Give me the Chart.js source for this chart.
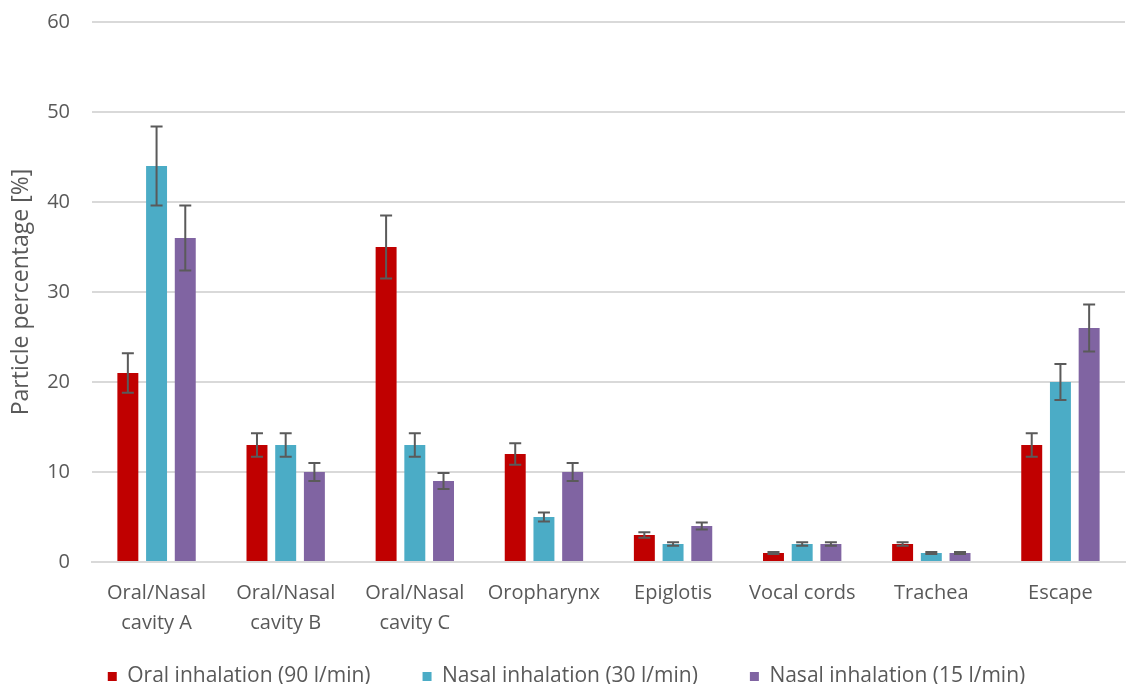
<!DOCTYPE html>
<html lang="en">
<head>
    <meta charset="UTF-8">
    <title>Particle deposition</title>
    <script src="https://cdn.jsdelivr.net/npm/chart.js"></script>
    <style>
        body { margin: 0; background: #fff; }
        .wrap { width: 1128px; height: 684px; }
    </style>
</head>
<body>
    <div class="wrap"><canvas id="chart"></canvas></div>
    <script>
        const categories = [
            ['Oral/Nasal', 'cavity A'], ['Oral/Nasal', 'cavity B'], ['Oral/Nasal', 'cavity C'],
            'Oropharynx', 'Epiglotis', 'Vocal cords', 'Trachea', 'Escape'
        ];
        const seriesNames = ['Oral inhalation (90 l/min)', 'Nasal inhalation (30 l/min)', 'Nasal inhalation (15 l/min)'];
        const oral90 = [21, 13, 35, 12, 3, 1, 2, 13];
        const nasal30 = [44, 13, 13, 5, 2, 2, 1, 20];
        const nasal15 = [36, 10, 9, 10, 4, 2, 1, 26];
        const oral90Err = [2.2, 1.3, 3.5, 1.2, 0.3, 0.1, 0.2, 1.3];
        const nasal30Err = [4.4, 1.3, 1.3, 0.5, 0.2, 0.2, 0.1, 2];
        const nasal15Err = [3.6, 1, 0.9, 1, 0.4, 0.2, 0.1, 2.6];
        const yTicks = [0, 10, 20, 30, 40, 50, 60];

        const colors = ['#C00000', '#4BACC6', '#8064A2'];
        const grey = '#595959';

        // draws the error bars from each bar's value +/- its error
        const errorBars = {
            id: 'errorBars',
            afterDatasetsDraw(chart) {
                const ctx = chart.ctx;
                const y = chart.scales.y;
                ctx.save();
                ctx.strokeStyle = '#5a5a5a';
                ctx.lineWidth = 2;
                chart.data.datasets.forEach((ds, di) => {
                    const meta = chart.getDatasetMeta(di);
                    meta.data.forEach((bar, i) => {
                        const v = ds.data[i], e = ds.errors[i];
                        const top = y.getPixelForValue(v + e);
                        const bot = y.getPixelForValue(v - e);
                        const x = bar.x;
                        ctx.beginPath();
                        ctx.moveTo(x, top); ctx.lineTo(x, bot);
                        ctx.moveTo(x - 6, top); ctx.lineTo(x + 6, top);
                        ctx.moveTo(x - 6, bot); ctx.lineTo(x + 6, bot);
                        ctx.stroke();
                    });
                });
                ctx.restore();
            }
        };

        Chart.defaults.font.family = '"Open Sans", Lato, sans-serif';
        Chart.defaults.color = grey;

        new Chart(document.getElementById('chart'), {
            type: 'bar',
            data: {
                labels: categories,
                datasets: [
                    { label: seriesNames[0], data: oral90, errors: oral90Err, backgroundColor: colors[0] },
                    { label: seriesNames[1], data: nasal30, errors: nasal30Err, backgroundColor: colors[1] },
                    { label: seriesNames[2], data: nasal15, errors: nasal15Err, backgroundColor: colors[2] }
                ]
            },
            options: {
                responsive: true,
                maintainAspectRatio: false,
                animation: false,
                layout: { padding: { left: 8, right: 3, top: 22, bottom: -13 } },
                datasets: { bar: { categoryPercentage: 0.667, barPercentage: 0.73 } },
                plugins: {
                    legend: {
                        position: 'bottom',
                        labels: { boxWidth: 9, boxHeight: 9, padding: 52, font: { size: 21 }, color: grey }
                    },
                    tooltip: { enabled: false }
                },
                scales: {
                    x: {
                        grid: { display: false },
                        border: { color: '#d9d9d9', width: 2 },
                        ticks: { font: { size: 20, lineHeight: 1.5 }, color: grey, maxRotation: 0, autoSkip: false, padding: 8 },
                        // short axis box; the second label line hangs into the legend's empty top padding
                        afterFit: (s) => {
                            s.height = 52;
                            s.paddingLeft = 0;
                            s.paddingRight = 0;
                            s._computeLabelArea = () => undefined;
                        }
                    },
                    y: {
                        min: 0, max: 60,
                        afterBuildTicks: (s) => { s.ticks = yTicks.map(v => ({ value: v })); },
                        afterFit: (s) => {
                            s.width = 84;
                            s.paddingTop = 0;
                            s.paddingBottom = 0;
                        },
                        grid: { color: '#d9d9d9', lineWidth: 2, drawTicks: false },
                        border: { display: false },
                        ticks: { font: { size: 20 }, color: grey, padding: 22 },
                        title: { display: true, text: 'Particle percentage [%]', font: { size: 23 }, color: grey, padding: { top: 0, bottom: 11 } }
                    }
                }
            },
            plugins: [errorBars]
        });
    </script>
</body>
</html>
